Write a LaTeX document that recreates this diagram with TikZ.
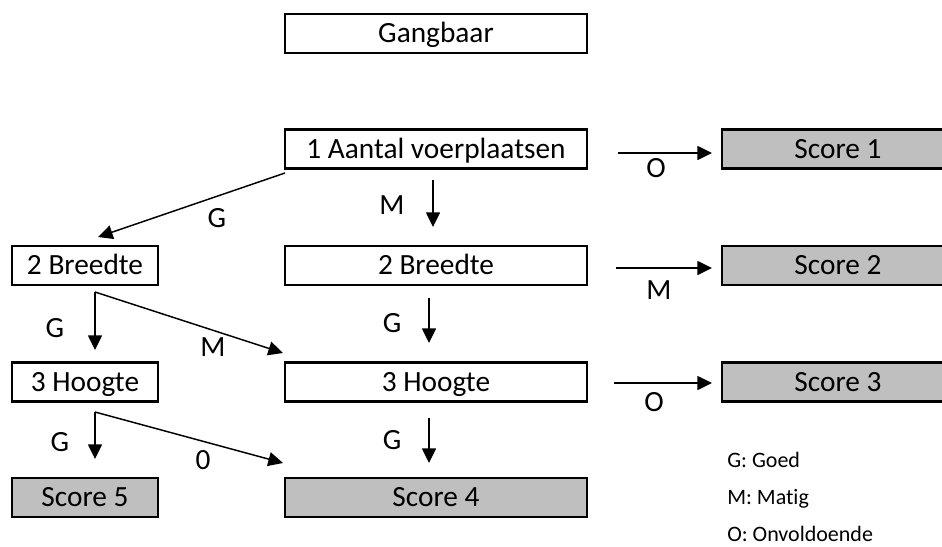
\documentclass[tikz,border=0pt]{standalone}
\usepackage{fontspec}
\setmainfont{Carlito}[Ligatures={NoCommon}]
\usetikzlibrary{arrows.meta}
\definecolor{scoregray}{RGB}{191,191,191}
\begin{document}
\begin{tikzpicture}[x=0.75pt,y=-0.75pt,
  box/.style={draw, line width=2pt, minimum height=29.25pt, inner sep=0pt,
    text height=14.2pt, text depth=0pt, font=\fontsize{22}{26}\selectfont},
  cbox/.style={box, minimum width=226.5pt},
  lbox/.style={box, minimum width=109.5pt},
  rbox/.style={box, minimum width=174pt, fill=scoregray},
  sbox/.style={fill=scoregray},
  arr/.style={line width=1.1pt, -{Triangle[length=11pt,width=10.5pt]}},
  lab/.style={font=\fontsize{22}{26}\selectfont, inner sep=0pt,
    text height=14.2pt, text depth=0pt},
  leg/.style={font=\fontsize{16.5}{20}\selectfont, anchor=west, inner sep=0pt,
    text height=10.6pt, text depth=0pt}]
\clip (0,0) rectangle (942,546);
\fill[white] (0,0) rectangle (942,546);
% boxes
\node[cbox] (gang) at (436,33.5) {Gangbaar};
\node[cbox] (av) at (436,149) {1 Aantal voerplaatsen};
\node[rbox] (s1) at (838,149) {Score 1};
\node[lbox] (bl) at (85,265.5) {2 Breedte};
\node[cbox] (bc) at (436,265.5) {2 Breedte};
\node[rbox] (s2) at (838,265.5) {Score 2};
\node[lbox] (hl) at (85,382) {3 Hoogte};
\node[cbox] (hc) at (436,382) {3 Hoogte};
\node[rbox] (s3) at (838,382) {Score 3};
\node[lbox,sbox] (s5) at (85,497.5) {Score 5};
\node[cbox,sbox] (s4) at (436,497.5) {Score 4};
% arrow end points
\coordinate (a1s) at (285,173); \coordinate (a1e) at (98,237);
\coordinate (a2s) at (433,180); \coordinate (a2e) at (433,227);
\coordinate (a3s) at (95,292);  \coordinate (a3e) at (95,350); \coordinate (a4e) at (283,353);
\coordinate (a5s) at (429,298); \coordinate (a5e) at (429,343);
\coordinate (a6s) at (95,412);  \coordinate (a6e) at (95,459); \coordinate (a7e) at (283,463);
\coordinate (a8s) at (429,418); \coordinate (a8e) at (429,463);
\coordinate (r1s) at (618,153); \coordinate (r1e) at (712,153);
\coordinate (r2s) at (616,268); \coordinate (r2e) at (712,268);
\coordinate (r3s) at (614,383); \coordinate (r3e) at (712,383);
% arrows
\draw[arr] (a1s) -- (a1e);
\draw[arr] (a2s) -- (a2e);
\draw[arr] (a3s) -- (a3e);
\draw[arr] (a3s) -- (a4e);
\draw[arr] (a5s) -- (a5e);
\draw[arr] (a6s) -- (a6e);
\draw[arr] (a6s) -- (a7e);
\draw[arr] (a8s) -- (a8e);
\draw[arr] (r1s) -- (r1e);
\draw[arr] (r2s) -- (r2e);
\draw[arr] (r3s) -- (r3e);
% labels
\node[lab] (lg1) at (217,218) {G};
\node[lab] (lm1) at (392,205) {M};
\node[lab] (lg2) at (55,328) {G};
\node[lab] (lm2) at (213,347) {M};
\node[lab] (lg3) at (392,323) {G};
\node[lab] (lg4) at (60,442) {G};
\node[lab] (lz) at (203,460) {0};
\node[lab] (lg5) at (392,440) {G};
\node[lab] (lo1) at (656,168) {O};
\node[lab] (lm3) at (659,290) {M};
\node[lab] (lo2) at (654,402) {O};
% legend
\node[leg] (kg) at (727,460) {G: Goed};
\node[leg] (km) at (727,497) {M: Matig};
\node[leg] (ko) at (727,534) {O: Onvoldoende};
\end{tikzpicture}
\end{document}
